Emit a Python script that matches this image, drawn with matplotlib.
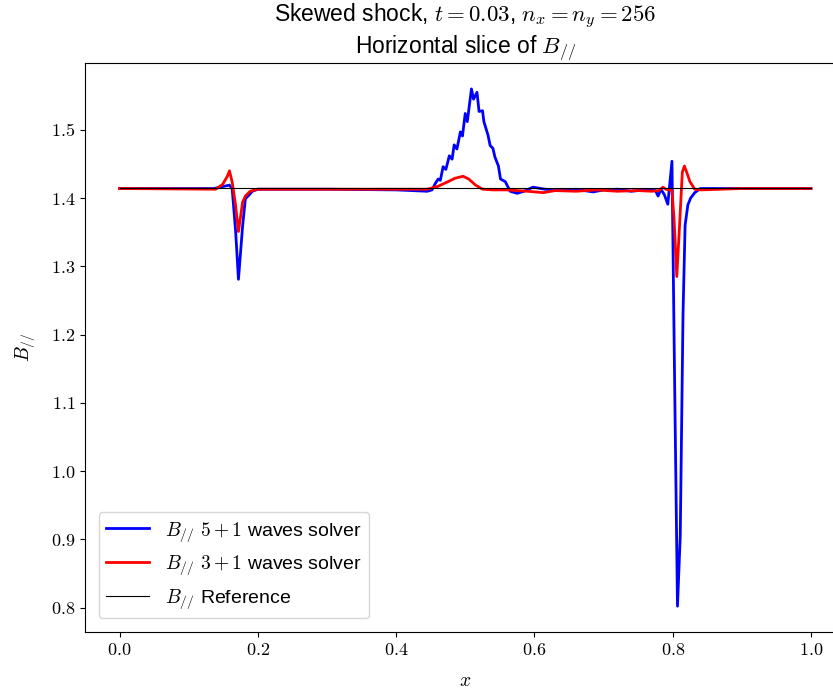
import numpy as np
import matplotlib
matplotlib.use('Agg')
import matplotlib.pyplot as plt

plt.rcParams['mathtext.fontset'] = 'cm'
plt.rcParams['font.family'] = ['Liberation Sans', 'DejaVu Sans']

B_ref = np.sqrt(2.0)

# ===== data =====
x_51 = [0.0, 0.136, 0.150, 0.159, 0.163, 0.168, 0.172, 0.178, 0.182, 0.186, 0.192, 0.20,
        0.30, 0.40, 0.445, 0.452, 0.457, 0.461, 0.464, 0.468, 0.472, 0.477, 0.481, 0.484,
        0.488, 0.493, 0.496, 0.500, 0.503, 0.509, 0.512, 0.517, 0.520, 0.525, 0.527, 0.530,
        0.533, 0.536, 0.540, 0.543, 0.548, 0.551, 0.558, 0.565, 0.575, 0.585, 0.598, 0.615,
        0.640, 0.660, 0.685, 0.700, 0.720, 0.740, 0.760, 0.775, 0.779, 0.783, 0.788, 0.793,
        0.799, 0.803, 0.807, 0.811, 0.815, 0.818, 0.822, 0.826, 0.832, 0.840, 0.90, 1.0]
B_51 = [1.414, 1.414, 1.417, 1.419, 1.413, 1.350, 1.281, 1.359, 1.399, 1.403, 1.410, 1.413,
        1.413, 1.412, 1.410, 1.412, 1.422, 1.428, 1.426, 1.446, 1.442, 1.462, 1.457, 1.478,
        1.472, 1.497, 1.491, 1.524, 1.512, 1.560, 1.545, 1.555, 1.527, 1.528, 1.512, 1.502,
        1.492, 1.477, 1.473, 1.460, 1.447, 1.428, 1.424, 1.410, 1.407, 1.410, 1.416, 1.413,
        1.411, 1.413, 1.409, 1.412, 1.413, 1.410, 1.412, 1.411, 1.403, 1.413, 1.405, 1.391,
        1.454, 1.120, 0.802, 0.905, 1.230, 1.360, 1.390, 1.400, 1.408, 1.414, 1.414, 1.414]

x_31 = [0.0, 0.139, 0.149, 0.156, 0.159, 0.163, 0.168, 0.172, 0.178, 0.182, 0.185, 0.189,
        0.20, 0.30, 0.40, 0.445, 0.460, 0.475, 0.485, 0.497, 0.505, 0.515, 0.525, 0.540,
        0.560, 0.590, 0.613, 0.630, 0.660, 0.690, 0.720, 0.750, 0.770, 0.780, 0.786, 0.790,
        0.795, 0.799, 0.802, 0.806, 0.810, 0.814, 0.817, 0.821, 0.825, 0.832, 0.840, 0.90, 1.0]
B_31 = [1.414, 1.413, 1.420, 1.432, 1.440, 1.423, 1.388, 1.351, 1.394, 1.403, 1.406, 1.410,
        1.413, 1.413, 1.413, 1.413, 1.417, 1.424, 1.429, 1.432, 1.428, 1.419, 1.413, 1.412,
        1.412, 1.410, 1.408, 1.411, 1.410, 1.412, 1.410, 1.411, 1.410, 1.411, 1.416, 1.413,
        1.412, 1.411, 1.370, 1.285, 1.360, 1.438, 1.447, 1.436, 1.424, 1.413, 1.412, 1.414, 1.414]

x_ref = [0.0, 1.0]
B_ref_line = [B_ref, B_ref]

xticks = [0.0, 0.2, 0.4, 0.6, 0.8, 1.0]
yticks = [0.8, 0.9, 1.0, 1.1, 1.2, 1.3, 1.4, 1.5]

fig = plt.figure(figsize=(8.33, 6.95), dpi=100)
ax = fig.add_axes([0.102, 0.0906, 0.913, 0.8187])

ax.plot(x_51, B_51, color='blue', lw=2, label=r'$B_{//}\ 5+1$ waves solver')
ax.plot(x_31, B_31, color='red', lw=2, label=r'$B_{//}\ 3+1$ waves solver')
ax.plot(x_ref, B_ref_line, color='black', lw=0.8, label=r'$B_{//}$ Reference')

ax.set_xlim(-0.05, 1.05)
ax.set_xticks(xticks)
ax.set_xticklabels([r'$%.1f$' % t for t in xticks], fontsize=13)
ax.set_yticks(yticks)
ax.set_yticklabels([r'$%.1f$' % t for t in yticks], fontsize=13)
ax.set_xlabel(r'$x$', fontsize=14, labelpad=10)
ax.set_ylabel(r'$B_{//}$', fontsize=14, labelpad=10)
ax.set_title('Skewed shock, $t=0.03$, $n_x=n_y=256$\nHorizontal slice of $B_{//}$',
             fontsize=16.5, linespacing=1.1)
ax.legend(loc='lower left', fontsize=14, handlelength=2.2, borderaxespad=0.7)

plt.savefig('out.png', dpi=100)
plt.close()
